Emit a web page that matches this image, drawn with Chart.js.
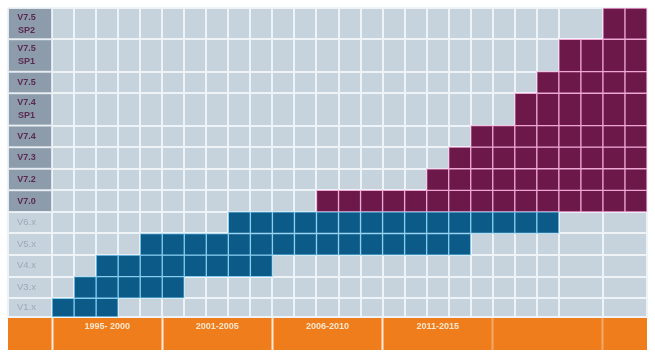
<!DOCTYPE html>
<html>
<head>
<meta charset="utf-8">
<script src="https://cdn.jsdelivr.net/npm/chart.js@4.4.1/dist/chart.umd.min.js"></script>
<style>
html,body{margin:0;padding:0;background:#ffffff;}
#wrap{width:655px;height:357px;position:relative;}
</style>
</head>
<body>
<div id="wrap"><canvas id="chart"></canvas></div>
<script>
// ---- data (rows listed bottom to top) ----
const versions = ['V1.x', 'V3.x', 'V4.x', 'V5.x', 'V6.x', 'V7.0', 'V7.2', 'V7.3', 'V7.4',
                  ['V7.4', 'SP1'], 'V7.5', ['V7.5', 'SP1'], ['V7.5', 'SP2']];
const firstColumn = [0, 1, 2, 4, 8, 12, 17, 18, 19, 21, 22, 23, 25];
const lastColumn  = [2, 5, 9, 18, 22, 26, 26, 26, 26, 26, 26, 26, 26];
const generation  = ['old', 'old', 'old', 'old', 'old', 'new', 'new', 'new', 'new', 'new', 'new', 'new', 'new'];
const periodLabels  = ['1995- 2000', '2001-2005', '2006-2010', '2011-2015', ''];
const periodCenters = [2.5, 7.5, 12.5, 17.5, 22.5];

// ---- layout helpers ----
const rowHeights = [0.87, 1, 1, 1, 1, 1, 1, 1, 1, 1.5, 1, 1.5, 1.45];
const rowBounds = [0];
rowHeights.forEach(h => rowBounds.push(rowBounds[rowBounds.length - 1] + h));
const rowCenters = rowHeights.map((h, i) => rowBounds[i] + h / 2);
const Y_MAX = rowBounds[rowBounds.length - 1];
const X_MIN = -2, X_MAX = 27;
const hiddenColumnLines = [-1, 24, 26];
const columnLines = [];
for (let v = X_MIN; v <= X_MAX; v++) columnLines.push(v);

function cellsFor(gen) {
  const out = [];
  versions.forEach((v, r) => {
    if (generation[r] !== gen) return;
    for (let c = firstColumn[r]; c <= lastColumn[r]; c++) {
      out.push({x: c + 0.5, y: [rowBounds[r], rowBounds[r + 1]]});
    }
  });
  return out;
}
const labelCells = [];
versions.forEach((v, r) => {
  if (generation[r] === 'new') labelCells.push({x: -1, y: [rowBounds[r], rowBounds[r + 1]]});
});

const FONT = "'Liberation Sans', Arial, sans-serif";
Chart.defaults.font.family = FONT;

const areaBg = {
  id: 'areaBg',
  beforeDraw(chart) {
    const {ctx, chartArea: a} = chart;
    ctx.save();
    ctx.fillStyle = '#c7d3dc';
    ctx.fillRect(a.left, a.top, a.right - a.left, a.bottom - a.top);
    ctx.restore();
  }
};

const noPad = s => { s.paddingTop = 0; s.paddingBottom = 0; s.paddingLeft = 0; s.paddingRight = 0; };
const barCommon = {grouped: false, barPercentage: 1, categoryPercentage: 1, borderSkipped: false, borderWidth: 1, xAxisID: 'x', yAxisID: 'y'};

new Chart(document.getElementById('chart'), {
  type: 'bar',
  data: {
    datasets: [
      Object.assign({label: 'V1–V6', data: cellsFor('old'), backgroundColor: '#0b5a88', borderColor: '#86cdf0'}, barCommon),
      Object.assign({label: 'V7', data: cellsFor('new'), backgroundColor: '#6c1849', borderColor: '#eea6d4'}, barCommon),
      Object.assign({label: 'labels', data: labelCells, backgroundColor: '#8c9cab', borderColor: '#e2e9ef'}, barCommon, {barPercentage: 2})
    ]
  },
  options: {
    responsive: true,
    maintainAspectRatio: false,
    animation: false,
    events: [],
    layout: {padding: {left: 8, right: 8, top: 8, bottom: 7}},
    plugins: {legend: {display: false}, tooltip: {enabled: false}, title: {display: false}},
    scales: {
      x: {
        type: 'linear', position: 'top', min: X_MIN, max: X_MAX, offset: false, display: true,
        afterBuildTicks: s => { s.ticks = columnLines.map(v => ({value: v})); },
        afterFit: s => { noPad(s); s.height = 0; },
        ticks: {display: false},
        grid: {
          offset: false, drawTicks: false, lineWidth: 2,
          color: ctx => (ctx.tick && hiddenColumnLines.includes(ctx.tick.value)) ? 'rgba(0,0,0,0)' : '#eef3f7'
        },
        border: {display: false}
      },
      xp: {
        type: 'linear', position: 'bottom', min: X_MIN, max: X_MAX, offset: false, display: true,
        backgroundColor: '#ef7d1c',
        afterBuildTicks: s => { s.ticks = periodCenters.map(v => ({value: v})); },
        afterFit: s => { noPad(s); s.height = 33; },
        ticks: {
          callback: (v, i) => periodLabels[i],
          color: '#fde6cc', font: {size: 9, weight: 'bold'},
          padding: -28.5, autoSkip: false, maxRotation: 0, minRotation: 0
        },
        grid: {
          offset: true, drawOnChartArea: false, drawTicks: true, tickLength: 33, tickWidth: 2,
          tickColor: ctx => (ctx.index !== undefined && ctx.index < 4) ? 'rgba(255,255,255,0.85)' : 'rgba(255,255,255,0.35)'
        },
        border: {display: false}
      },
      y: {
        type: 'linear', position: 'left', min: 0, max: Y_MAX, display: true,
        afterBuildTicks: s => { s.ticks = rowCenters.map(v => ({value: v})); },
        afterFit: s => { noPad(s); s.width = 0; },
        ticks: {
          z: 1,
          mirror: true, crossAlign: 'center', padding: 9, autoSkip: false,
          callback: (v, i) => versions[i],
          color: ctx => generation[ctx.index] === 'new' ? '#5b2a53' : '#9aaab8',
          font: ctx => generation[ctx.index] === 'new'
            ? {family: FONT, size: 9, weight: 'bold', lineHeight: 1.45}
            : {family: FONT, size: 9.5, weight: 'normal', lineHeight: 1.2}
        },
        grid: {display: false, drawTicks: false},
        border: {display: false}
      },
      yg: {
        type: 'linear', position: 'left', min: 0, max: Y_MAX, display: true,
        afterBuildTicks: s => { s.ticks = rowBounds.map(v => ({value: v})); },
        afterFit: s => { noPad(s); s.width = 0; },
        ticks: {display: false},
        grid: {drawTicks: false, lineWidth: 2, color: '#eef3f7'},
        border: {display: false}
      }
    }
  },
  plugins: [areaBg]
});
</script>
</body>
</html>
